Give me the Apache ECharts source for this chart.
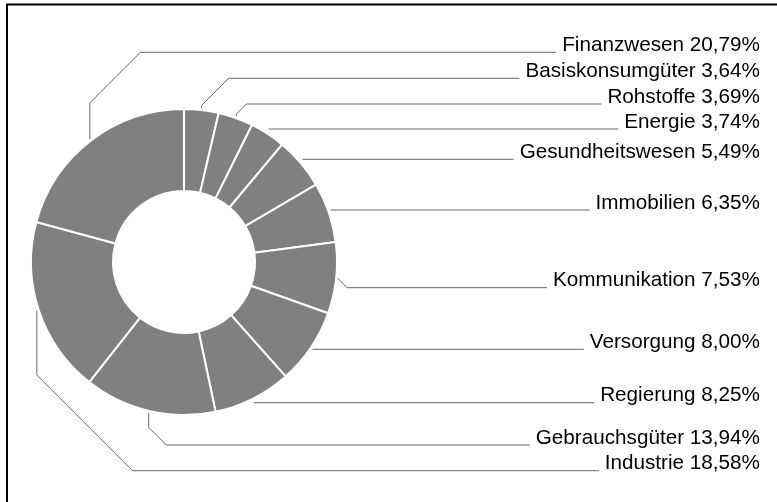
<!DOCTYPE html>
<html>
<head>
<meta charset="utf-8">
<script src="https://cdn.jsdelivr.net/npm/echarts@6/dist/echarts.min.js"></script>
<style>
  html, body { margin: 0; padding: 0; background: #fff; }
  #chart { width: 777px; height: 502px; }
</style>
</head>
<body>
<div id="chart"></div>
<script>
// sectors, clockwise from 12 o'clock
const categories = ['Basiskonsumgüter', 'Rohstoffe', 'Energie', 'Gesundheitswesen', 'Immobilien',
  'Kommunikation', 'Versorgung', 'Regierung', 'Gebrauchsgüter', 'Industrie', 'Finanzwesen'];
const shares = [3.64, 3.69, 3.74, 5.49, 6.35, 7.53, 8.00, 8.25, 13.94, 18.58, 20.79];

// label placement (all labels stacked on the right side)
const lineY = [78.3, 104, 129, 159.3, 210, 287.7, 349.3, 402.7, 445, 470.7, 52.3];
const diagLen = [27, 10, 0, 0, 0, 9, 0, 0, 17.7, 95.7, 50.6];

const cx = 184, cy = 262, rIn = 71, rOut = 153, rLine = 155;
const labelRight = 760;

const total = shares.reduce((a, b) => a + b, 0);
const midAngles = [];
let acc = 0;
shares.forEach(v => {
  midAngles.push((acc + v / 2) / total * Math.PI * 2);
  acc += v;
});

const fmt = v => v.toFixed(2).replace('.', ',') + '%';

const chart = echarts.init(document.getElementById('chart'));

chart.setOption({
  animation: false,
  backgroundColor: '#fff',
  graphic: [{
    type: 'rect',
    shape: { x: 7, y: 4.5, width: 900, height: 600 },
    style: { fill: 'none', stroke: '#000', lineWidth: 2 },
    silent: true
  }],
  series: [{
    type: 'pie',
    center: [cx, cy],
    radius: [rIn, rOut],
    startAngle: 90,
    clockwise: true,
    avoidLabelOverlap: false,
    itemStyle: { color: '#808080', borderColor: '#fff', borderWidth: 2 },
    label: {
      show: true,
      position: 'outside',
      color: '#000',
      fontFamily: 'Liberation Sans, Arial, sans-serif',
      fontSize: 20.7,
      formatter: p => p.name + ' ' + fmt(p.value)
    },
    labelLine: {
      show: true,
      lineStyle: { color: '#666', width: 1 }
    },
    labelLayout: function (params) {
      const i = params.dataIndex;
      const a = midAngles[i];
      const sx = cx + rLine * Math.sin(a);
      const sy = cy - rLine * Math.cos(a);
      const ly = lineY[i];
      const endX = labelRight - params.labelRect.width - 6;
      const d = diagLen[i];
      let pts;
      if (d > 0) {
        const dir = ly < sy ? -1 : 1;
        const kneeY = ly - dir * d;
        pts = [[sx, sy], [sx, kneeY], [sx + d, ly], [endX, ly]];
      } else {
        pts = [[sx, ly], [endX, ly]];
      }
      return {
        x: labelRight,
        y: ly - 7,
        align: 'right',
        verticalAlign: 'middle',
        labelLinePoints: pts
      };
    },
    emphasis: { disabled: true },
    data: categories.map((c, i) => ({ name: c, value: shares[i] }))
  }]
});
</script>
</body>
</html>
